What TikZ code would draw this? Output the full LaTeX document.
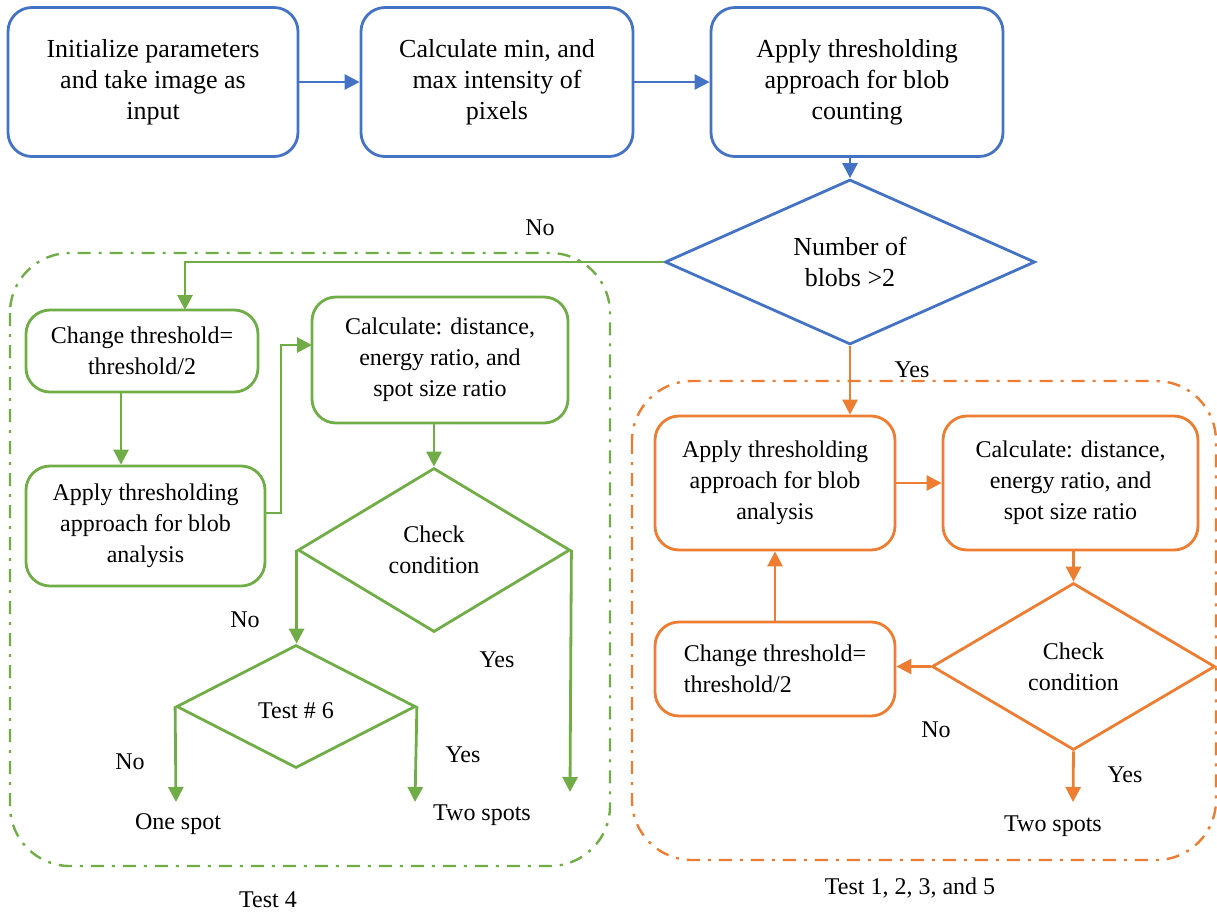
\documentclass[tikz,border=0pt]{standalone}
\usepackage{fontspec}
\setmainfont{Liberation Serif}
\usetikzlibrary{shapes.geometric,arrows.meta}

\definecolor{topblue}{HTML}{4472C4}
\definecolor{testgreen}{HTML}{70AD47}
\definecolor{testorange}{HTML}{ED7D31}

\begin{document}
\begin{tikzpicture}[x=0.5pt,y=-0.5pt,
  text drop/.style={execute at begin node={\rule{0pt}{#1}}},
  block/.style={draw,rounded corners=12pt,line width=1.4pt,align=center,inner sep=2pt,
    font=\fontsize{12}{15.5}\selectfont,text drop=12pt},
  top block/.style={block,draw=topblue,minimum height=74.5pt,font=\fontsize{13}{15.5}\selectfont,
    text drop=14pt},
  decision/.style={diamond,draw,line width=1.4pt,align=center,inner sep=0pt,
    font=\fontsize{12}{15.5}\selectfont,text drop=12pt},
  flow/.style={line width=1.4pt,-{Triangle[length=7.5pt,width=7.5pt]}},
  group/.style={line width=1.2pt,rounded corners=30pt,dash pattern=on 6.5pt off 4pt on 1.5pt off 4pt},
  answer/.style={font=\fontsize{12}{14}\selectfont,inner sep=0pt}]

  \useasboundingbox (0,0) rectangle (1217,912);

%% dash-dot groups
  \draw [group,testgreen] (10,253) rectangle (610,866);
  \draw [group,testorange] (632,381) rectangle (1216,860);

%% top row
  \node [top block,minimum width=145pt] (init) at (153,82)
    {Initialize parameters\\and take image as\\input};
  \node [top block,minimum width=136pt] (minmax) at (497,82)
    {Calculate min, and\\max intensity of\\pixels};
  \node [top block,minimum width=146pt] (blobcount) at (857,82)
    {Apply thresholding\\approach for blob\\counting};
  \node [decision,draw=topblue,aspect=2.2,minimum width=185pt,minimum height=82.5pt,
    font=\fontsize{13}{15.5}\selectfont,text drop=13pt] (numblobs) at (850,262) {Number of\\blobs >2};

  \draw [flow,topblue] (init) -- (minmax);
  \draw [flow,topblue] (minmax) -- (blobcount);
  \draw [flow,topblue] (numblobs.north |- blobcount.south) -- (numblobs.north);

%% test 4
  \node [block,draw=testgreen,minimum width=116pt,minimum height=41pt] (gchange) at (142,351)
    {Change threshold=\\threshold/2};
  \node [block,draw=testgreen,minimum width=119.5pt,minimum height=60pt] (gapply) at (145.5,526)
    {Apply thresholding\\approach for blob\\analysis};
  \node [block,draw=testgreen,minimum width=128pt,minimum height=63pt] (gcalc) at (440,360)
    {Calculate: distance,\\energy ratio, and\\spot size ratio};
  \node [decision,draw=testgreen,aspect=1.66,minimum width=136pt,minimum height=82pt] (gcheck) at (434,550)
    {Check\\condition};
  \node [decision,draw=testgreen,aspect=1.94,minimum width=119.5pt,minimum height=61.5pt] (gtest) at (296,706.5)
    {Test \# 6};

  \coordinate (gentry) at (185,310);
  \coordinate (gdown) at (121,392);
  \coordinate (gout) at (265,513);
  \coordinate (gin) at (312,345);
  \coordinate (gone) at (176,802);
  \coordinate (gtwo) at (415,802);
  \coordinate (gyes) at (570,792);

  \draw [flow,testgreen] (numblobs.west) -| (gentry);
  \draw [flow,testgreen] (gdown) -- (gdown |- gapply.north);
  \draw [flow,testgreen] (gout) -- +(16,0) |- (gin);
  \draw [flow,testgreen] (gcalc.south -| gcheck.north) -- (gcheck.north);
  \draw [flow,testgreen] (gcheck.west) -- (gcheck.west |- gtest.north);
  \draw [flow,testgreen] (gcheck.east) -- (gyes);
  \draw [flow,testgreen] (gtest.west) -- (gone);
  \draw [flow,testgreen] (gtest.east) -- (gtwo);

  \node [answer] (blobsno) at (540,228) {No};
  \node [answer] (gcheckno) at (245,620) {No};
  \node [answer] (gcheckyes) at (497,660) {Yes};
  \node [answer] (gtestno) at (130,762) {No};
  \node [answer] (gtestyes) at (463,755) {Yes};
  \node [answer] (gonespot) at (178,824) {One spot};
  \node [answer] (gtwospots) at (482,815) {Two spots};
  \node [answer] (gtitle) at (268,900) {Test 4};

%% test 1, 2, 3, and 5
  \node [block,draw=testorange,minimum width=120pt,minimum height=67pt] (oapply) at (775,483)
    {Apply thresholding\\approach for blob\\analysis};
  \node [block,draw=testorange,minimum width=127.5pt,minimum height=67pt] (ocalc) at (1070.5,483)
    {Calculate: distance,\\energy ratio, and\\spot size ratio};
  \node [decision,draw=testorange,aspect=1.7,minimum width=141.5pt,minimum height=83.5pt] (ocheck) at (1073.5,666.5)
    {Check\\condition};
  \node [block,draw=testorange,align=left,minimum width=120pt,minimum height=47pt] (ochange) at (775,669)
    {Change threshold=\\threshold/2};

  \coordinate (oyes) at (1073,802);

  \draw [flow,testorange] (numblobs.south) -- (numblobs.south |- oapply.north);
  \draw [flow,testorange] (oapply.east) -- (ocalc.west);
  \draw [flow,testorange] (ocheck.north |- ocalc.south) -- (ocheck.north);
  \draw [flow,testorange] (ocheck.west) -- (ocheck.west -| ochange.east);
  \draw [flow,testorange] (ochange.north) -- (oapply.south);
  \draw [flow,testorange] (ocheck.south) -- (oyes);

  \node [answer] (blobsyes) at (912,370) {Yes};
  \node [answer] (ocheckno) at (936,730) {No};
  \node [answer] (ocheckyes) at (1125,775) {Yes};
  \node [answer] (otwospots) at (1053,826) {Two spots};
  \node [answer] (otitle) at (910,888) {Test 1, 2, 3, and 5};

\end{tikzpicture}
\end{document}
